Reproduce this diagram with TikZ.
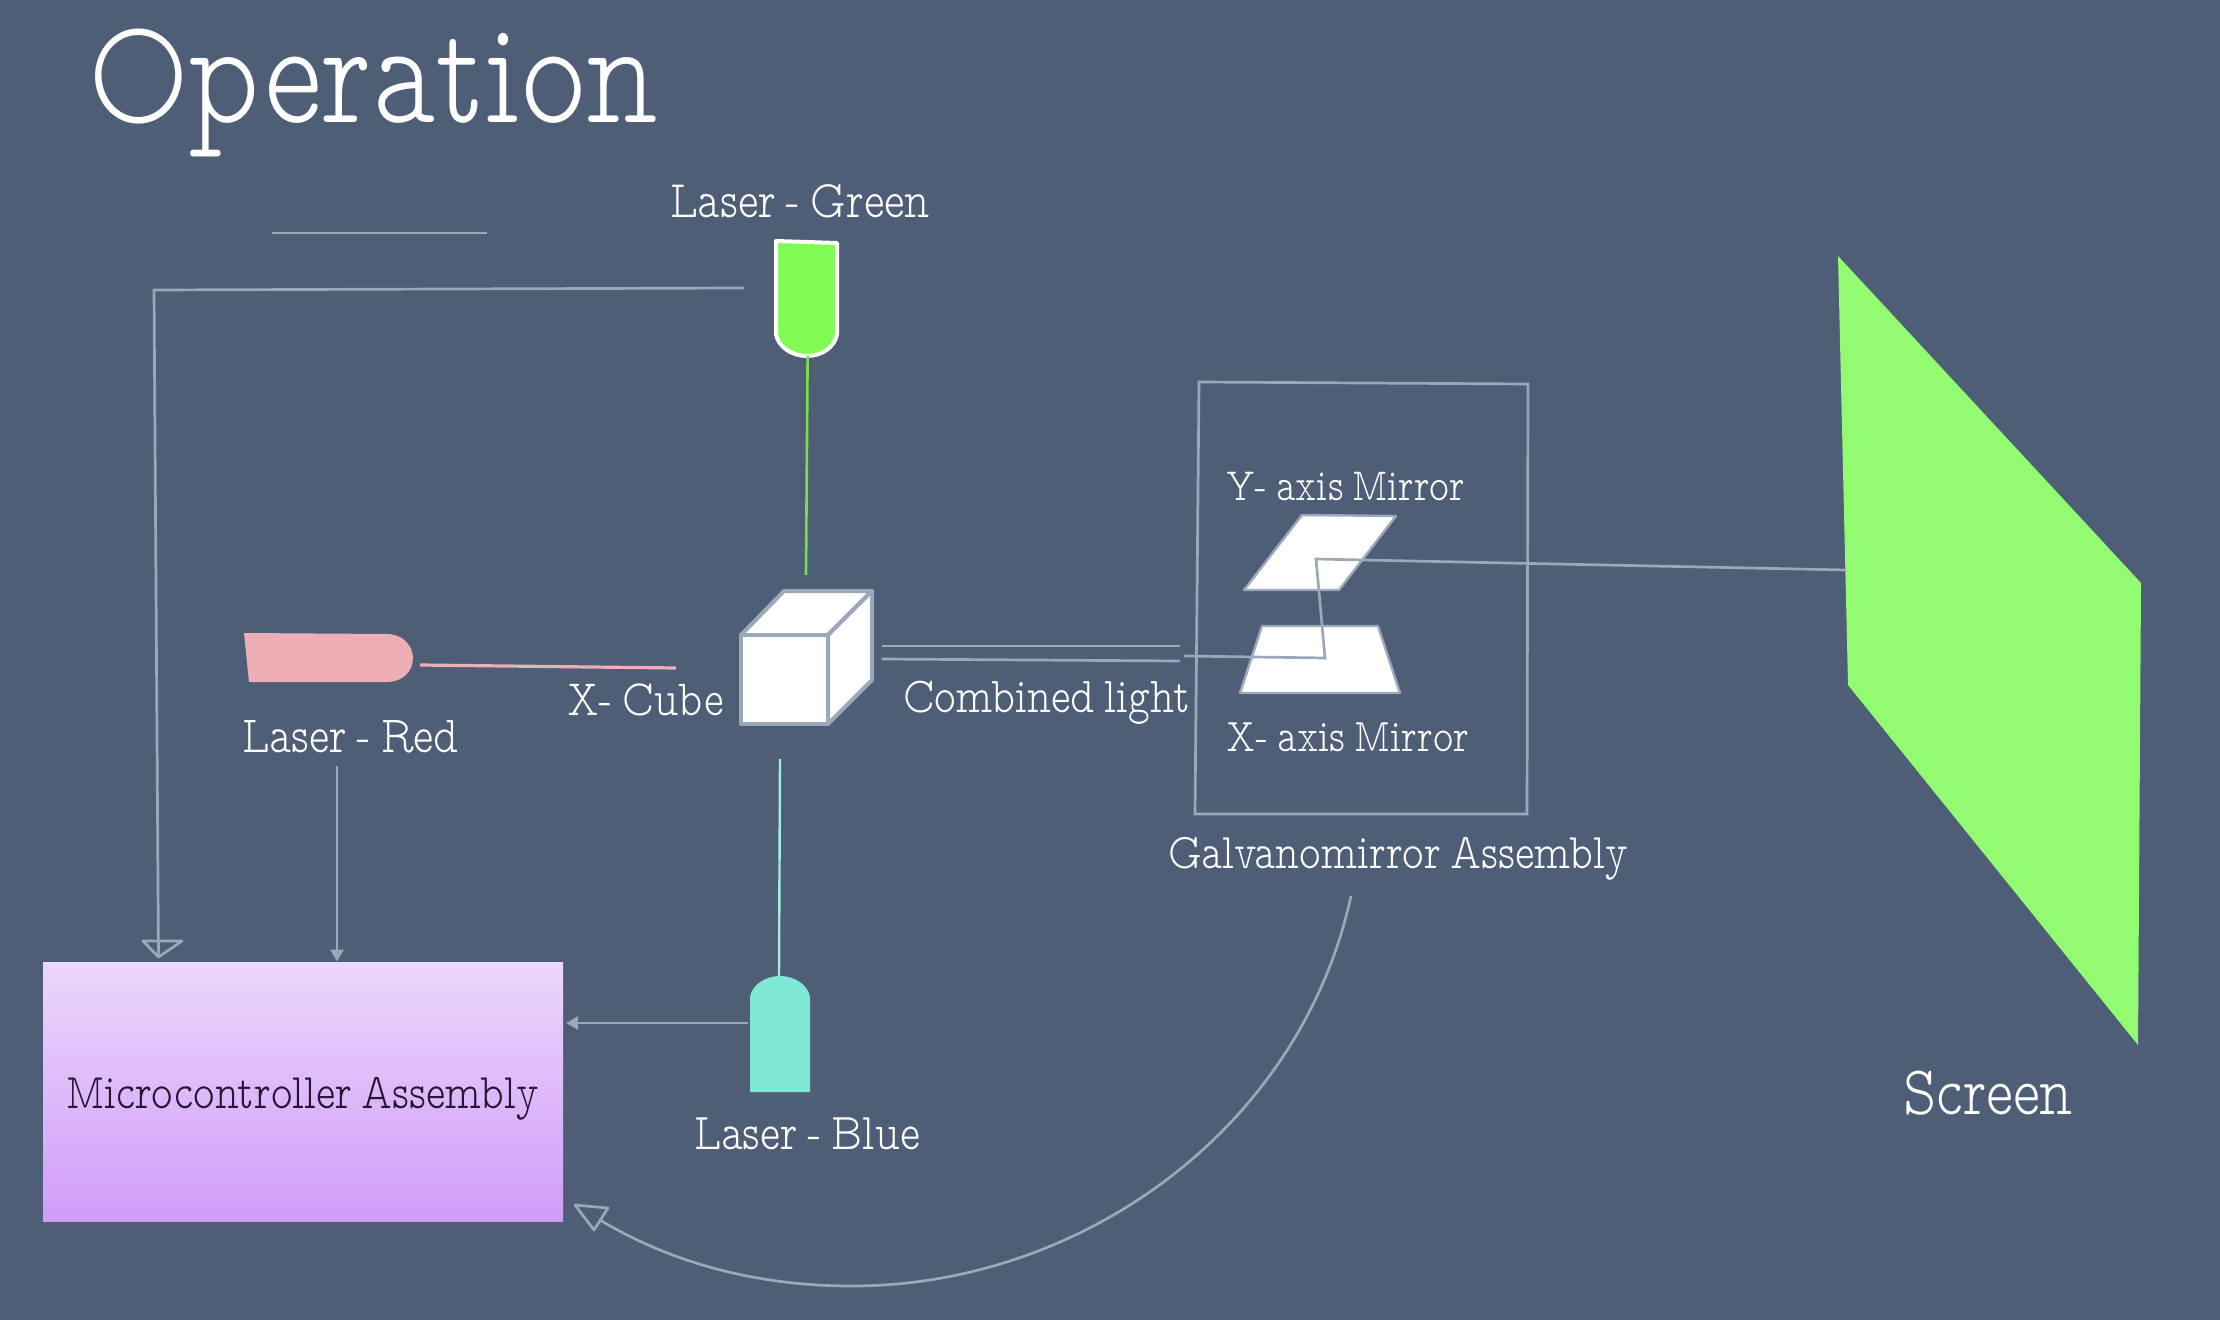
\documentclass[tikz,border=0pt]{standalone}
\usepackage{fontspec}
\usepackage{graphicx}
\newfontfamily\slab[WordSpace=0.65]{Latin Modern Mono Prop Light}
\usetikzlibrary{arrows.meta}
\definecolor{bgc}{HTML}{4E5E77}
\definecolor{linec}{HTML}{9BA8BA}
\definecolor{screenc}{HTML}{92FB72}
\definecolor{greenl}{HTML}{7FFB54}
\definecolor{greenb}{HTML}{76E04A}
\definecolor{redl}{HTML}{EDAEB6}
\definecolor{bluel}{HTML}{7EE8D5}
\definecolor{blueb}{HTML}{A5EBE0}
\definecolor{microtop}{HTML}{ECD7FC}
\definecolor{microbot}{HTML}{D19CF8}
\definecolor{microtxt}{HTML}{24172F}
\newcommand{\fitw}[2]{\scalebox{1}[1.22]{\resizebox{#1pt}{!}{\slab #2}}}
\tikzset{
  lbl/.style={anchor=base west,inner sep=0pt,outer sep=0pt,text=white},
  conn/.style={draw=linec,line width=1.35pt},
  smalltip/.style={conn,-{Triangle[length=6pt,width=6.5pt]}},
  hollow/.style={draw=linec,line width=1.35pt,line join=round},
  mirror/.style={draw=linec,fill=white,line width=1.2pt,line join=round},
  cubeface/.style={draw=linec,fill=white,line width=2pt,line join=round},
}
\begin{document}
\begin{tikzpicture}[x=0.5pt,y=-0.5pt]
\useasboundingbox (0,0) rectangle (2220,1320);
\fill[bgc] (0,0) rectangle (2220,1320);

% text
\node[lbl] (title) at (88,123) {\fitw{285}{Operation}};
\node[lbl] (tgreen) at (670,218) {\fitw{130}{Laser - Green}};
\node[lbl] (tred) at (242,752) {\fitw{108.5}{Laser - Red}};
\node[lbl] (tcube) at (567,715) {\fitw{78.5}{X- Cube}};
\node[lbl] (tcomb) at (903,712) {\fitw{143.5}{Combined light}};
\node[lbl] (tymir) at (1226,500) {\fitw{119.5}{Y- axis Mirror}};
\node[lbl] (txmir) at (1226,751) {\fitw{121.5}{X- axis Mirror}};
\node[lbl] (tgalv) at (1168,868) {\fitw{230}{Galvanomirror Assembly}};
\node[lbl] (tblue) at (694,1149) {\fitw{113}{Laser - Blue}};
\node[lbl] (tscreen) at (1903,1114) {\fitw{85}{Screen}};

% microcontroller
\node[minimum width=260pt,minimum height=129.5pt,inner sep=0pt,top color=microtop,bottom color=microbot,text=microtxt] (micro) at (303,1091.5) {};
\node[lbl,text=microtxt] (tmicro) at (66,1108) {\fitw{236.5}{Microcontroller Assembly}};

% screen
\fill[screenc] (1838,256) -- (2141,583) -- (2138,1045) -- (1848,685) -- cycle;

% lasers
\draw[fill=greenl,draw=white,line width=2pt,line join=round] (776,241) -- (837,243) -- (837,334) .. controls (835,347) and (822,356) .. (807,356) .. controls (792,356) and (778,347) .. (776,334) -- cycle;
\fill[redl] (244,633) -- (387,634) .. controls (403,634) and (413,646) .. (413,658) .. controls (413,671) and (403,682) .. (387,682) -- (249,682) -- cycle;
\fill[bluel] (750,1092) -- (750,997) .. controls (752,985) and (765,976) .. (780,976) .. controls (795,976) and (808,985) .. (810,997) -- (810,1092) -- cycle;

% beams from lasers
\coordinate (gtop) at (807.6,356);
\coordinate (gbot) at (806,575);
\draw[greenb,line width=1.3pt] (gtop) -- (gbot);
\coordinate (rl) at (420,665);
\coordinate (rr) at (676,668);
\draw[redl,line width=1.6pt] (rl) -- (rr);
\coordinate (bt) at (780,759);
\coordinate (bb) at (779,976);
\draw[blueb,line width=1.2pt] (bt) -- (bb);

% cube
\draw[cubeface] (741,635) -- (784,591) -- (872,591) -- (828,635) -- cycle;
\draw[cubeface] (828,635) -- (872,591) -- (872,680) -- (828,724) -- cycle;
\draw[cubeface] (741,635) rectangle (828,724);

% combined light
\coordinate (c1l) at (881.5,646);
\coordinate (c1r) at (1180,646);
\coordinate (c2l) at (881.5,659);
\coordinate (c2r) at (1180,661);
\draw[conn] (c1l) -- (c1r);
\draw[conn] (c2l) -- (c2r);

% galvo box
\draw[conn,line join=miter] (1199,382) -- (1528,384) -- (1527,814) -- (1195,814) -- cycle;

% mirrors
\draw[mirror] (1302,515) -- (1396,516) -- (1339,590) -- (1244,590) -- cycle;
\draw[mirror] (1262,626) -- (1378,626) -- (1400,693) -- (1240,693) -- cycle;

% beam through mirrors
\coordinate (b0) at (1184,656);
\coordinate (b1) at (1325,658);
\coordinate (b2) at (1316,559);
\coordinate (b3) at (1846,570);
\draw[conn,line join=miter] (b0) -- (b1) -- (b2) -- (1363,560) -- (b3);

% small free line
\coordinate (s1) at (272,233);
\coordinate (s2) at (487,233);
\draw[conn] (s1) -- (s2);

% green to micro
\coordinate (g0) at (744,288);
\coordinate (g1) at (154,290);
\coordinate (g2) at (158.5,957);
\draw[conn] (g0) -- (g1) -- (g2);
\draw[hollow] (158.5,957) -- (143,941) -- (182,941) -- cycle;

% red to micro
\coordinate (r0) at (337,766);
\draw[smalltip] (r0) -- (micro.north -| r0);

% blue to micro
\coordinate (bl0) at (748,1023);
\coordinate (bl1) at (566,1023);
\draw[smalltip] (bl0) -- (bl1);

% galvo to micro
\coordinate (cv0) at (1351,896);
\coordinate (cv1) at (852,1286);
\coordinate (cv2) at (600,1220);
\draw[conn] (cv0) .. controls (1300,1130) and (1080,1286) .. (cv1) .. controls (768,1286) and (680,1268) .. (cv2);
\draw[hollow] (575,1205) -- (608,1208) -- (594,1230) -- cycle;
\end{tikzpicture}
\end{document}
